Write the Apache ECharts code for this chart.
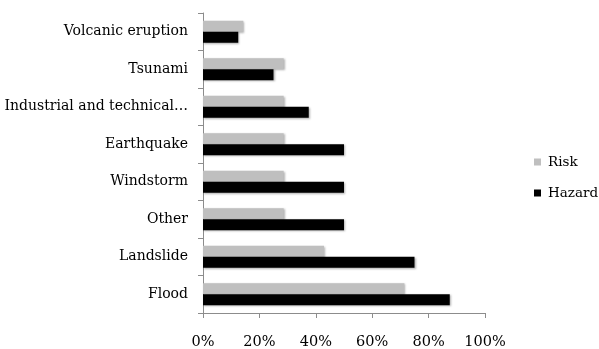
<!DOCTYPE html>
<html>
<head>
<meta charset="utf-8">
<script src="https://cdn.jsdelivr.net/npm/echarts@6/dist/echarts.min.js"></script>
<style>
  html, body { margin: 0; padding: 0; background: #fff; }
  #chart { width: 599px; height: 349px; }
</style>
</head>
<body>
<div id="chart"></div>
<script>
// Hazard types, bottom to top
const categories = ['Flood', 'Landslide', 'Other', 'Windstorm', 'Earthquake',
  'Industrial and technical…', 'Tsunami', 'Volcanic eruption'];
// Share of respondents (%)
const riskValues = [71.4, 42.9, 28.6, 28.6, 28.6, 28.6, 28.6, 14.3];
const hazardValues = [87.5, 75, 50, 50, 50, 37.5, 25, 12.5];
const xTicks = [0, 20, 40, 60, 80, 100];

const font = 'DejaVu Serif';
const axisGray = '#8c8c8c';
const shadow = { shadowBlur: 2, shadowOffsetX: 1, shadowOffsetY: 1, shadowColor: 'rgba(0,0,0,0.3)' };

const chart = echarts.init(document.getElementById('chart'), null, { renderer: 'canvas' });
chart.setOption({
  animation: false,
  backgroundColor: '#fff',
  grid: { left: 203, top: 13, right: 114, bottom: 36, outerBoundsMode: 'none', containLabel: false },
  legend: {
    orient: 'vertical',
    left: 534,
    top: 155,
    padding: 0,
    itemWidth: 7,
    itemHeight: 7,
    itemGap: 17,
    icon: 'rect',
    textStyle: { fontFamily: font, fontSize: 13.5, color: '#000', padding: [0, 0, 0, 2] },
    data: ['Risk', 'Hazard']
  },
  xAxis: {
    type: 'value',
    min: xTicks[0],
    max: xTicks[xTicks.length - 1],
    interval: 20,
    axisLine: { show: true, lineStyle: { color: axisGray, width: 1 } },
    axisTick: { show: true, length: 5, lineStyle: { color: axisGray } },
    splitLine: { show: false },
    axisLabel: { fontFamily: font, fontSize: 14.5, color: '#000', margin: 22, formatter: v => v + '%' }
  },
  yAxis: {
    type: 'category',
    data: categories,
    axisLine: { show: true, lineStyle: { color: axisGray, width: 1 } },
    axisTick: { show: true, length: 5, lineStyle: { color: axisGray } },
    axisLabel: { fontFamily: font, fontSize: 14, color: '#000', margin: 15 }
  },
  series: [
    {
      name: 'Risk', type: 'bar', data: riskValues,
      barWidth: 11, barGap: '0%',
      itemStyle: Object.assign({ color: '#bfbfbf' }, shadow)
    },
    {
      name: 'Hazard', type: 'bar', data: hazardValues,
      barWidth: 11, barGap: '0%',
      itemStyle: Object.assign({ color: '#000' }, shadow)
    }
  ]
});
</script>
</body>
</html>
